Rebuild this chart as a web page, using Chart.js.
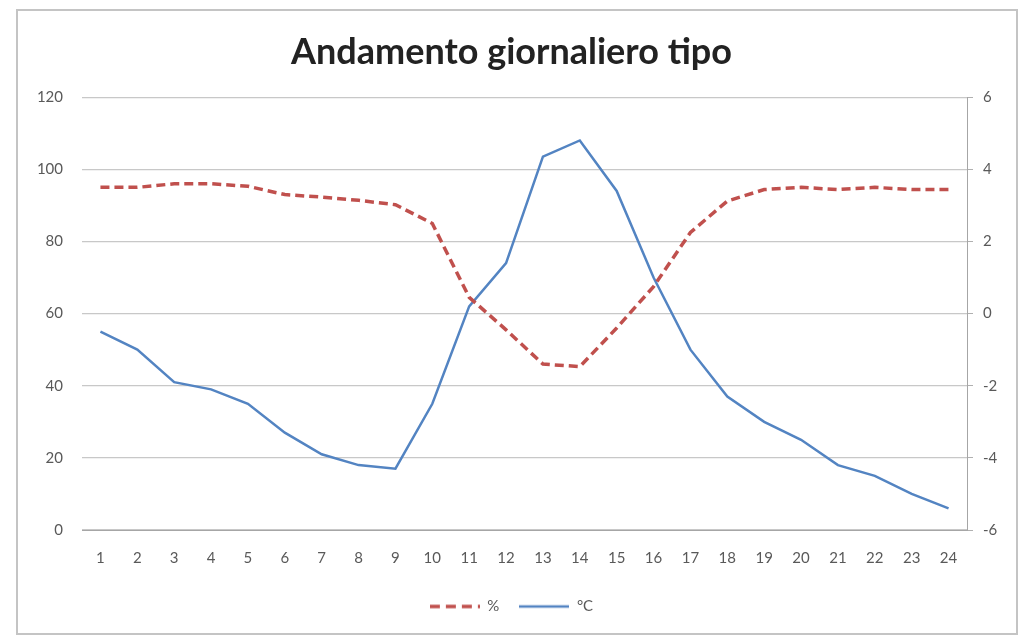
<!DOCTYPE html>
<html>
<head>
<meta charset="utf-8">
<script src="https://cdn.jsdelivr.net/npm/chart.js@4/dist/chart.umd.min.js"></script>
<style>
  html, body { margin: 0; padding: 0; background: #ffffff; }
  #wrap { width: 1023px; height: 637px; }
</style>
</head>
<body>
<div id="wrap"><canvas id="chart" width="1023" height="637"></canvas></div>
<script>
// Hourly profile: relative humidity (%) and temperature (°C)
const hours = ['1','2','3','4','5','6','7','8','9','10','11','12',
               '13','14','15','16','17','18','19','20','21','22','23','24'];
const humidity = [95, 95, 96, 96, 95.3, 93, 92.3, 91.4, 90.2, 85, 64.5, 55.5,
                  46, 45.3, 56, 67.5, 82.5, 91.2, 94.4, 95, 94.4, 95, 94.4, 94.4];
const temperature = [-0.5, -1.0, -1.9, -2.1, -2.5, -3.3, -3.9, -4.2, -4.3, -2.5, 0.2, 1.4,
                     4.35, 4.8, 3.4, 1.0, -1.0, -2.3, -3.0, -3.5, -4.2, -4.5, -5.0, -5.4];
const humidityTicks = { min: 0, max: 120, step: 20 };
const temperatureTicks = { min: -6, max: 6, step: 2 };

const labelFont = { family: 'Lato', size: 15 };
const labelColor = '#595959';
const humidityColor = '#c0504d';
const temperatureColor = '#5384c2';
const humidityDash = [9, 5];

// Small line swatches used as legend markers (dashed for %, solid for °C)
function lineSwatch(color, width, dash) {
  const c = document.createElement('canvas');
  c.width = 50;
  c.height = 6;
  const g = c.getContext('2d');
  g.strokeStyle = color;
  g.lineWidth = width;
  g.lineCap = 'butt';
  g.setLineDash(dash);
  g.beginPath();
  g.moveTo(0, 3);
  g.lineTo(50, 3);
  g.stroke();
  return c;
}

// White background and the outer frame of the chart
const framePlugin = {
  id: 'frame',
  beforeDraw(chart) {
    const ctx = chart.ctx;
    ctx.save();
    ctx.fillStyle = '#ffffff';
    ctx.fillRect(0, 0, chart.width, chart.height);
    ctx.restore();
  },
  afterDraw(chart) {
    const ctx = chart.ctx;
    ctx.save();
    ctx.strokeStyle = '#c4c4c4';
    ctx.lineWidth = 2;
    ctx.strokeRect(17, 10, 1000, 624);
    ctx.restore();
  }
};

new Chart(document.getElementById('chart'), {
  type: 'line',
  data: {
    labels: hours,
    datasets: [
      {
        label: '%',
        data: humidity,
        yAxisID: 'y',
        borderColor: humidityColor,
        backgroundColor: humidityColor,
        borderWidth: 3.5,
        borderDash: humidityDash,
        borderCapStyle: 'butt',
        pointRadius: 0,
        pointStyle: lineSwatch(humidityColor, 3.5, [10, 6]),
        tension: 0,
        fill: false
      },
      {
        label: '°C',
        data: temperature,
        yAxisID: 'y2',
        borderColor: temperatureColor,
        backgroundColor: temperatureColor,
        borderWidth: 2.5,
        pointRadius: 0,
        pointStyle: lineSwatch(temperatureColor, 2.5, []),
        tension: 0,
        fill: false
      }
    ]
  },
  options: {
    responsive: false,
    animation: false,
    devicePixelRatio: 1,
    layout: { padding: { top: 0, left: 0, right: 0, bottom: 13 } },
    plugins: {
      title: {
        display: true,
        text: 'Andamento giornaliero tipo',
        color: '#222222',
        font: { family: 'Lato', size: 36, weight: 'bold', lineHeight: 1.2 },
        padding: { top: 31, bottom: 23 }
      },
      legend: {
        display: true,
        position: 'bottom',
        labels: {
          usePointStyle: true,
          pointStyleWidth: 50,
          color: labelColor,
          font: labelFont,
          padding: 20
        }
      },
      tooltip: { enabled: false }
    },
    scales: {
      x: {
        type: 'category',
        offset: true,
        grid: { display: false, drawTicks: false },
        border: { display: true, color: '#a6a6a6', width: 1 },
        ticks: { color: labelColor, font: labelFont, padding: 19, maxRotation: 0, autoSkip: false },
        afterFit(scale) { scale.height = 49; }
      },
      y: {
        position: 'left',
        min: humidityTicks.min,
        max: humidityTicks.max,
        grid: { color: '#c8c8c8', lineWidth: 1.2, drawTicks: false },
        border: { display: false },
        ticks: { stepSize: humidityTicks.step, color: labelColor, font: labelFont, padding: 19 },
        afterFit(scale) { scale.width = 82; }
      },
      y2: {
        position: 'right',
        min: temperatureTicks.min,
        max: temperatureTicks.max,
        grid: { drawOnChartArea: false, drawTicks: true, tickLength: 6, color: '#b0b0b0' },
        border: { display: true, color: '#a6a6a6', width: 1 },
        ticks: { stepSize: temperatureTicks.step, color: labelColor, font: labelFont, padding: 10 },
        afterFit(scale) { scale.width = 56; }
      }
    }
  },
  plugins: [framePlugin]
});
</script>
</body>
</html>
